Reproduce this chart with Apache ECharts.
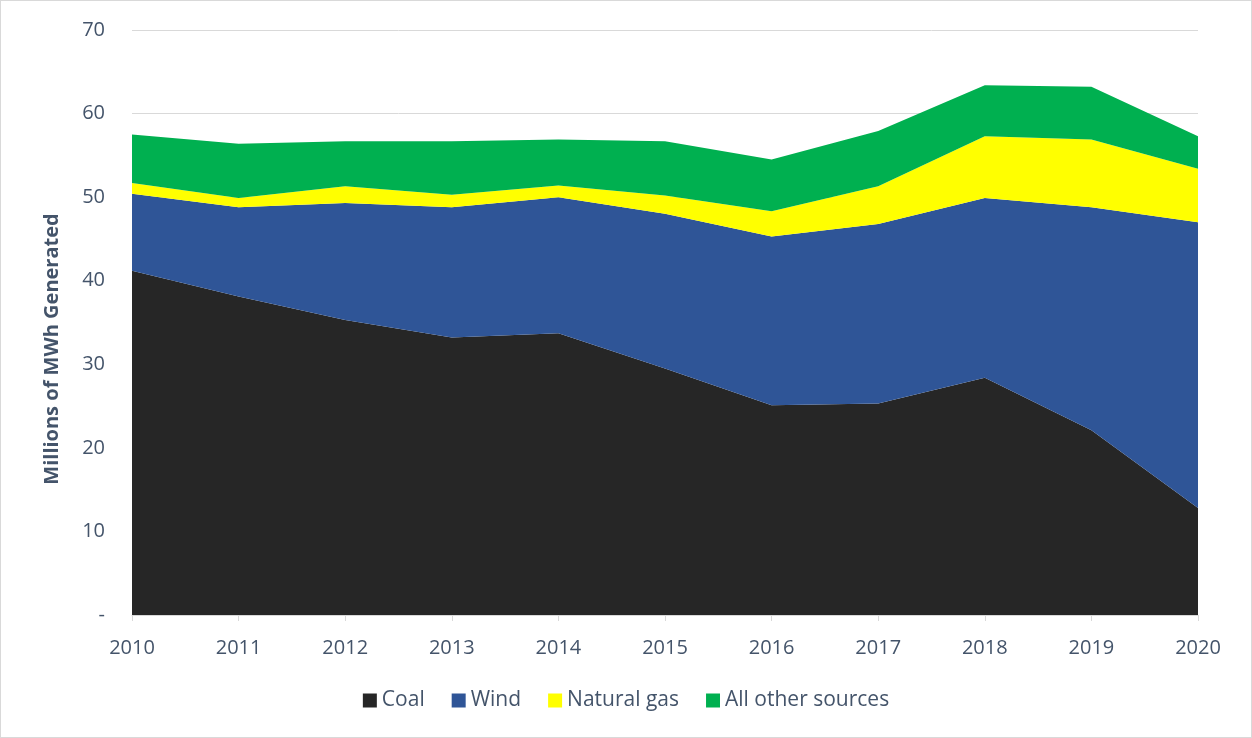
<!DOCTYPE html>
<html>
<head>
<meta charset="utf-8">
<script src="https://cdn.jsdelivr.net/npm/echarts@6/dist/echarts.min.js"></script>
<style>
html,body{margin:0;padding:0;background:#fff;}
#c{width:1252px;height:738px;box-sizing:border-box;border:1px solid #d9d9d9;}
</style>
</head>
<body>
<div id="c"></div>
<script>
const years = ['2010','2011','2012','2013','2014','2015','2016','2017','2018','2019','2020'];
const coal = [41.2, 38.1, 35.3, 33.2, 33.7, 29.5, 25.1, 25.3, 28.4, 22.1, 12.8];
const wind = [9.2, 10.7, 14.0, 15.6, 16.3, 18.5, 20.2, 21.5, 21.5, 26.7, 34.2];
const naturalGas = [1.3, 1.1, 2.0, 1.5, 1.4, 2.2, 3.0, 4.5, 7.4, 8.1, 6.4];
const otherSources = [5.8, 6.5, 5.4, 6.4, 5.5, 6.5, 6.2, 6.6, 6.1, 6.3, 3.9];
const seriesNames = ['Coal', 'Wind', 'Natural gas', 'All other sources'];
const yTitle = 'Millions of MWh Generated';
const colors = ['#262626', '#2f5597', '#ffff00', '#00b050'];

const chart = echarts.init(document.getElementById('c'), null, {renderer: 'canvas'});
const font = '"Open Sans", "Liberation Sans", sans-serif';
const txt = '#44546a';
const mk = (name, data, i) => ({
  name, type: 'line', stack: 'total', data,
  symbol: 'none', smooth: false,
  lineStyle: {width: 0},
  areaStyle: {color: colors[i], opacity: 1},
  itemStyle: {color: colors[i]},
  emphasis: {disabled: true}
});
chart.setOption({
  animation: false,
  grid: {left: 131, right: 53, top: 29, bottom: 122},
  graphic: [{
    type: 'text', x: 51, y: 348, rotation: Math.PI / 2,
    style: {text: yTitle, font: 'bold 20px ' + font, fill: txt,
      textAlign: 'center', textVerticalAlign: 'middle'}
  }],
  legend: {
    bottom: 21, left: 'center',
    icon: 'rect', itemWidth: 14, itemHeight: 14, itemGap: 27,
    textStyle: {fontFamily: font, fontSize: 21, color: txt},
    data: seriesNames
  },
  xAxis: {
    type: 'category', data: years, boundaryGap: false,
    axisLine: {lineStyle: {color: '#d9d9d9', width: 1}},
    axisTick: {show: true, alignWithLabel: true, length: 6, lineStyle: {color: '#d9d9d9'}},
    axisLabel: {fontFamily: font, fontSize: 20, color: txt, margin: 23},
    splitLine: {show: false}
  },
  yAxis: {
    type: 'value', min: 0, max: 70, interval: 10,
    axisLine: {show: false}, axisTick: {show: false},
    axisLabel: {fontFamily: font, fontSize: 20, color: txt, margin: 27,
      formatter: v => v === 0 ? '-' : String(v)},
    splitLine: {lineStyle: {color: '#d9d9d9', width: 1}}
  },
  series: [
    mk(seriesNames[0], coal, 0),
    mk(seriesNames[1], wind, 1),
    mk(seriesNames[2], naturalGas, 2),
    mk(seriesNames[3], otherSources, 3)
  ]
});
</script>
</body>
</html>
